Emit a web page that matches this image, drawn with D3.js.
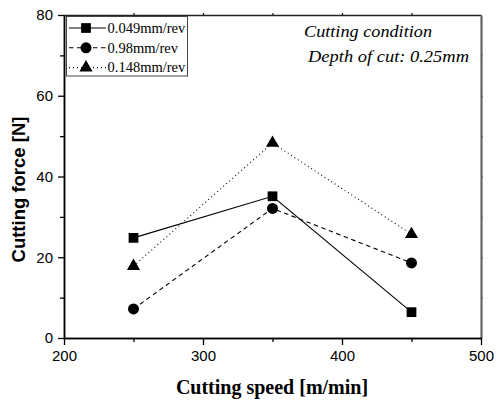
<!DOCTYPE html>
<html>
<head>
<meta charset="utf-8">
<script src="https://cdn.jsdelivr.net/npm/d3@7"></script>
<style>
  body { margin: 0; background: #fff; }
  svg { display: block; }
</style>
</head>
<body>
<svg id="chart" width="496" height="403"></svg>
<script>
// Cutting speed (m/min) at which each feed rate was tested
const speeds = [250, 350, 450];
// Cutting force (N) for each feed rate
const force049 = [24.8, 35.1, 6.4];
const force098 = [7.2, 32.1, 18.6];
const force148 = [17.8, 48.3, 25.7];
const seriesNames = ["0.049mm/rev", "0.98mm/rev", "0.148mm/rev"];
const xTicks = [200, 300, 400, 500];
const yTicks = [0, 20, 40, 60, 80];

const series = [
  { name: seriesNames[0], values: force049, symbol: d3.symbolSquare, dash: null },
  { name: seriesNames[1], values: force098, symbol: d3.symbolCircle, dash: "4.5,3.5" },
  { name: seriesNames[2], values: force148, symbol: d3.symbolTriangle, dash: "1,3" }
];

const svg = d3.select("#chart");
const plotL = 64, plotR = 481, plotT = 15, plotB = 338;

const x = d3.scaleLinear().domain([200, 500]).range([plotL, plotR]);
const y = d3.scaleLinear().domain([0, 80]).range([plotB, plotT]);

const g = svg.append("g");

// Axes frame: mirrored top and right axes with small outward ticks
const axisFont = "Liberation Sans, Arial, sans-serif";

const xAxis = d3.axisBottom(x).tickValues(xTicks).tickSize(7).tickPadding(5).tickFormat(d3.format("d"));
const xMinor = d3.axisBottom(x).tickValues([250, 350, 450]).tickSize(4).tickFormat("");
const yAxis = d3.axisLeft(y).tickValues(yTicks).tickSize(6).tickPadding(5).tickFormat(d3.format("d"));
const yMinor = d3.axisLeft(y).tickValues([10, 30, 50, 70]).tickSize(4).tickFormat("");

function styleAxis(sel, color, width) {
  sel.select(".domain").attr("stroke", color).attr("stroke-width", width);
  sel.selectAll(".tick line").attr("stroke", color).attr("stroke-width", 1.3);
  sel.selectAll(".tick text").attr("fill", "#000").style("font-family", axisFont).style("font-size", "15px");
}

// top and right mirror axes
g.append("g").attr("transform", `translate(0,${plotT})`)
  .call(d3.axisTop(x).tickValues([250, 300, 350, 400, 450]).tickSize(2).tickFormat("").tickSizeOuter(0))
  .call(s => styleAxis(s, "#222", 1.5));
g.append("g").attr("transform", `translate(${plotR},0)`)
  .call(d3.axisRight(y).tickValues([10, 20, 30, 40, 50, 60, 70]).tickSize(2).tickFormat("").tickSizeOuter(0))
  .call(s => styleAxis(s, "#666", 2.2));

g.append("g").attr("transform", `translate(0,${plotB})`).call(xMinor.tickSizeOuter(0)).call(s => styleAxis(s, "#000", 1.5));
g.append("g").attr("transform", `translate(0,${plotB})`).call(xAxis.tickSizeOuter(0)).call(s => styleAxis(s, "#000", 1.5));
g.append("g").attr("transform", `translate(${plotL},0)`).call(yMinor.tickSizeOuter(0)).call(s => styleAxis(s, "#000", 1.5));
g.append("g").attr("transform", `translate(${plotL},0)`).call(yAxis.tickSizeOuter(0)).call(s => styleAxis(s, "#000", 1.5));

// Axis titles
svg.append("text")
  .attr("x", 272).attr("y", 394)
  .attr("text-anchor", "middle")
  .style("font-family", "Liberation Serif, Times New Roman, serif")
  .style("font-weight", "bold").style("font-size", "20px")
  .text("Cutting speed [m/min]");

svg.append("text")
  .attr("transform", "translate(25,189.5) rotate(-90)")
  .attr("text-anchor", "middle")
  .style("font-family", axisFont)
  .style("font-weight", "bold").style("font-size", "18.5px")
  .text("Cutting force [N]");

// Series lines and markers
const line = d3.line().x((d, i) => x(speeds[i])).y(d => y(d));
series.forEach(s => {
  g.append("path")
    .datum(s.values)
    .attr("d", line)
    .attr("fill", "none")
    .attr("stroke", "#000")
    .attr("stroke-width", 1.1)
    .attr("stroke-dasharray", s.dash);
  g.selectAll(null)
    .data(s.values)
    .join("path")
    .attr("transform", (d, i) => `translate(${x(speeds[i])},${y(d)})`)
    .attr("d", d3.symbol().type(s.symbol).size(s.symbol === d3.symbolTriangle ? 75 : 95))
    .attr("fill", "#000");
});

// Legend
const legend = svg.append("g");
legend.append("rect")
  .attr("x", 66.5).attr("y", 16.5).attr("width", 121).attr("height", 59.5)
  .attr("fill", "#fff").attr("stroke", "#444").attr("stroke-width", 1);
series.forEach((s, i) => {
  const ly = 28 + i * 19.8;
  legend.append("line")
    .attr("x1", 69).attr("x2", 106).attr("y1", ly).attr("y2", ly)
    .attr("stroke", "#000").attr("stroke-width", 1.1)
    .attr("stroke-dasharray", s.dash);
  legend.append("path")
    .attr("transform", `translate(86,${ly})`)
    .attr("d", d3.symbol().type(s.symbol).size(s.symbol === d3.symbolTriangle ? 75 : 95))
    .attr("fill", "#000");
  legend.append("text")
    .attr("x", 107.5).attr("y", ly + 4.8)
    .style("font-family", "Liberation Serif, Times New Roman, serif")
    .style("font-size", "14.5px")
    .text(s.name);
});

// Test condition note
const note = svg.append("g")
  .style("font-family", "Liberation Serif, Times New Roman, serif")
  .style("font-style", "italic").style("font-size", "16.5px");
note.append("text").attr("x", 304).attr("y", 37).text("Cutting condition")
  .attr("textLength", 128).attr("lengthAdjust", "spacingAndGlyphs");
note.append("text").attr("x", 308).attr("y", 61.5).text("Depth of cut: 0.25mm")
  .attr("textLength", 161).attr("lengthAdjust", "spacingAndGlyphs");
</script>
</body>
</html>
